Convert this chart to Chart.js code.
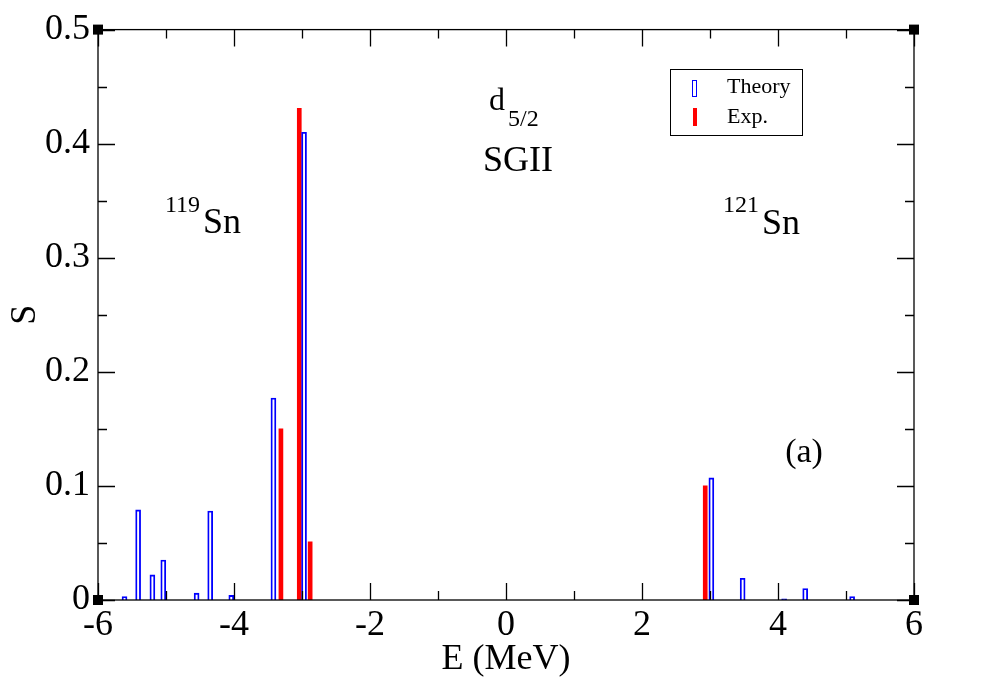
<!DOCTYPE html>
<html><head><meta charset="utf-8">
<script src="https://cdn.jsdelivr.net/npm/chart.js@4.4.1/dist/chart.umd.min.js"></script>
<style>html,body{margin:0;padding:0;background:#fff;}canvas{display:block;}</style>
</head><body>
<canvas id="c" width="982" height="687"></canvas>
<script>
// Data
const theoryE = [-5.61, -5.41, -5.20, -5.04, -4.55, -4.35, -4.04, -3.42, -2.97, 3.02, 3.48, 4.09, 4.40, 5.09];
const theoryS = [0.003, 0.079, 0.022, 0.035, 0.006, 0.078, 0.004, 0.177, 0.410, 0.107, 0.019, 0.001, 0.010, 0.003];
const expE = [-3.31, -3.04, -2.88, 2.93];
const expS = [0.150, 0.431, 0.051, 0.100];
const seriesNames = ['Theory', 'Exp.'];
const xMin = -6, xMax = 6, xStep = 2;
const yMin = 0, yMax = 0.5, yStep = 0.1;
const xTitle = 'E (MeV)';
const yTitle = 'S';

const SERIF = "'Liberation Serif', 'Times New Roman', serif";

const decor = {
  id: 'decor',
  afterDraw(chart) {
    const {ctx, chartArea: a, scales: {x, y}} = chart;
    ctx.save();
    ctx.strokeStyle = '#000';
    ctx.lineWidth = 1.3;
    ctx.strokeRect(a.left, a.top, a.right - a.left, a.bottom - a.top);
    ctx.beginPath();
    for (let v = xMin; v <= xMax; v += 1) {
      const px = Math.round(x.getPixelForValue(v)) + 0.5;
      const len = (Math.abs(v) % 2 === 0) ? 17 : 9;
      ctx.moveTo(px, a.bottom); ctx.lineTo(px, a.bottom - len);
      ctx.moveTo(px, a.top); ctx.lineTo(px, a.top + len);
    }
    for (let i = 0; i <= 10; i++) {
      const py = Math.round(y.getPixelForValue(i * 0.05)) + 0.5;
      const len = (i % 2 === 0) ? 17 : 9;
      ctx.moveTo(a.left, py); ctx.lineTo(a.left + len, py);
      ctx.moveTo(a.right, py); ctx.lineTo(a.right - len, py);
    }
    ctx.stroke();
    // corner markers
    ctx.fillStyle = '#000';
    [[a.left, a.top], [a.right, a.top], [a.left, a.bottom], [a.right, a.bottom]].forEach(([cx, cy]) => {
      ctx.fillRect(cx - 5, cy - 5, 10, 10);
    });
    // annotations
    ctx.fillStyle = '#000';
    ctx.textBaseline = 'alphabetic';
    ctx.textAlign = 'left';
    ctx.font = '24px ' + SERIF; ctx.fillText('119', 165, 212);
    ctx.font = '36px ' + SERIF; ctx.fillText('Sn', 203, 233);
    ctx.font = '24px ' + SERIF; ctx.fillText('121', 723, 212);
    ctx.font = '36px ' + SERIF; ctx.fillText('Sn', 762, 234);
    ctx.font = '32px ' + SERIF; ctx.fillText('d', 489, 110);
    ctx.font = '24px ' + SERIF; ctx.fillText('5/2', 508, 126);
    ctx.font = '36px ' + SERIF; ctx.fillText('SGII', 483, 171);
    ctx.font = '34px ' + SERIF; ctx.textAlign = 'center'; ctx.fillText('(a)', 804, 462);
    // legend
    ctx.lineWidth = 1;
    ctx.strokeStyle = '#000';
    ctx.strokeRect(670.5, 69.5, 132, 66);
    ctx.strokeStyle = '#0000ff';
    ctx.strokeRect(692.5, 80.5, 4, 16);
    ctx.fillStyle = '#ff0000';
    ctx.fillRect(693, 108, 4, 18);
    ctx.fillStyle = '#000';
    ctx.textAlign = 'left';
    ctx.font = '22px ' + SERIF;
    ctx.fillText(seriesNames[0], 727, 93);
    ctx.fillText(seriesNames[1], 727, 123);
    ctx.restore();
  }
};

new Chart(document.getElementById('c'), {
  type: 'bar',
  data: {
    datasets: [
      {
        label: seriesNames[0],
        data: theoryE.map((e, i) => ({x: e, y: theoryS[i]})),
        backgroundColor: 'rgba(255,255,255,0)',
        borderColor: '#0000ff',
        borderWidth: 1.2,
        borderSkipped: 'start',
        barThickness: 5,
        grouped: false
      },
      {
        label: seriesNames[1],
        data: expE.map((e, i) => ({x: e, y: expS[i]})),
        backgroundColor: '#ff0000',
        borderWidth: 0,
        barThickness: 4,
        grouped: false
      }
    ]
  },
  options: {
    responsive: false,
    animation: false,
    devicePixelRatio: 1,
    layout: {padding: {top: 28, right: 68, left: 0, bottom: 0}},
    plugins: {legend: {display: false}, tooltip: {enabled: false}},
    scales: {
      x: {
        type: 'linear', min: xMin, max: xMax, offset: false,
        grid: {display: false, drawTicks: false},
        border: {display: false},
        ticks: {stepSize: xStep, padding: 4, color: '#000', font: {family: SERIF, size: 36},
          callback: v => String(v)},
        title: {display: true, text: xTitle, color: '#000', font: {family: SERIF, size: 36}, padding: {top: 0, bottom: 6}},
        afterFit: s => { s.height = 87; }
      },
      y: {
        type: 'linear', min: yMin, max: yMax,
        grid: {display: false, drawTicks: false},
        border: {display: false},
        ticks: {stepSize: yStep, padding: 8, color: '#000', font: {family: SERIF, size: 36},
          callback: v => (Math.abs(v) < 1e-9 ? '0' : v.toFixed(1))},
        title: {display: true, text: yTitle, color: '#000', font: {family: SERIF, size: 36}, padding: {top: 4, bottom: 0}},
        afterFit: s => { s.width = 98; }
      }
    }
  },
  plugins: [decor]
});
</script>
</body></html>
